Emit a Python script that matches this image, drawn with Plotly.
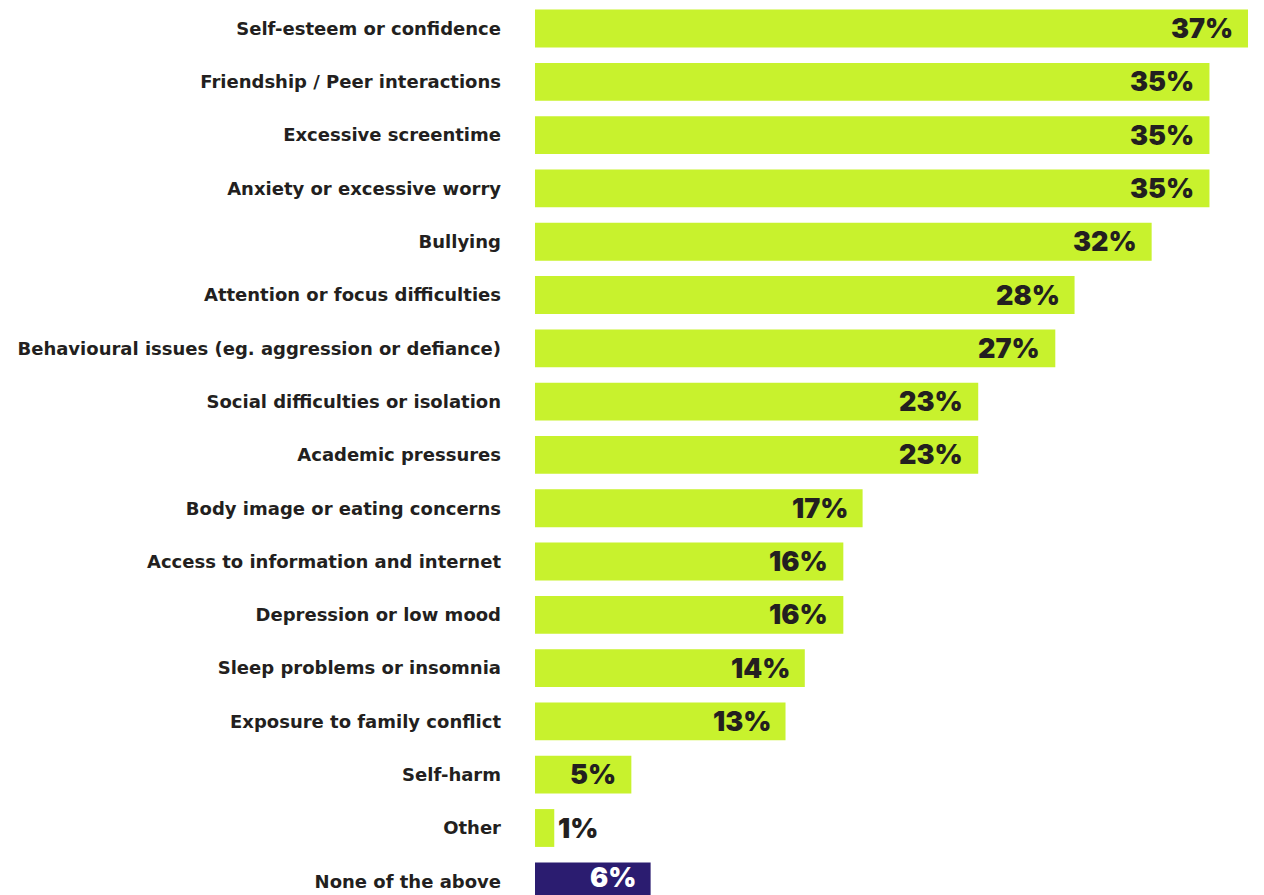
import plotly.graph_objects as go

categories = [
    "Self-esteem or confidence",
    "Friendship / Peer interactions",
    "Excessive screentime",
    "Anxiety or excessive worry",
    "Bullying",
    "Attention or focus difficulties",
    "Behavioural issues (eg. aggression or defiance)",
    "Social difficulties or isolation",
    "Academic pressures",
    "Body image or eating concerns",
    "Access to information and internet",
    "Depression or low mood",
    "Sleep problems or insomnia",
    "Exposure to family conflict",
    "Self-harm",
    "Other",
    "None of the above",
]
values = [37, 35, 35, 35, 32, 28, 27, 23, 23, 17, 16, 16, 14, 13, 5, 1, 6]

LIME = "#c8f22d"
NAVY = "#2b1c70"
INK = "#231f20"

bar_colors = [NAVY if c == "None of the above" else LIME for c in categories]

fig = go.Figure(
    go.Bar(
        x=values,
        y=categories,
        orientation="h",
        marker=dict(color=bar_colors, line=dict(width=0)),
        hoverinfo="skip",
    )
)

# value labels at the end of each bar; bars too short for the label get it outside
last = categories[-1]
for cat, val, col in zip(categories, values, bar_colors):
    inside = val >= 4
    fig.add_annotation(
        x=val,
        y=cat,
        text=f"{val}%",
        showarrow=False,
        xanchor="right" if inside else "left",
        xshift=-13 if inside else 2,
        yshift=4 if cat == last else 0,
        font=dict(family="Inter", size=27, weight=900,
                  color="#ffffff" if col == NAVY else INK),
    )

fig.update_layout(
    width=1264,
    height=895,
    margin=dict(l=535, r=0, t=0, b=0),
    paper_bgcolor="#ffffff",
    plot_bgcolor="#ffffff",
    bargap=0.29,
    showlegend=False,
    xaxis=dict(range=[0, 37.83], visible=False, fixedrange=True),
    yaxis=dict(
        categoryorder="array",
        categoryarray=categories,
        range=[16.257, -0.535],
        showgrid=False,
        zeroline=False,
        showline=False,
        ticks="",
        ticklabelstandoff=33,
        tickfont=dict(family="DejaVu Sans", size=18, weight=700, color=INK),
        fixedrange=True,
    ),
)

fig.write_html("out.html")
